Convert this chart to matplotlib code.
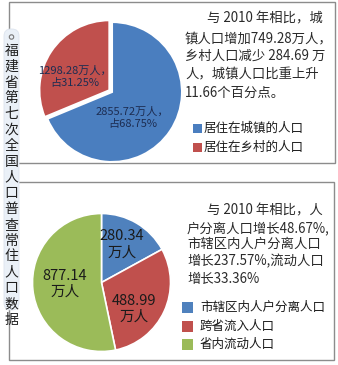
import matplotlib
matplotlib.use("Agg")
import matplotlib.pyplot as plt
from matplotlib.patches import Rectangle, FancyBboxPatch, Circle

plt.rcParams['font.family'] = ['Noto Sans CJK SC', 'DejaVu Sans']

# 城乡人口
urban_rural_names = ['居住在城镇的人口', '居住在乡村的人口']
urban_rural_values = [2855.72, 1298.28]
urban_rural_colors = ['#4a7ebf', '#c0504d']

# 人户分离 / 流动人口
flow_names = ['市辖区内人户分离人口', '跨省流入人口', '省内流动人口']
flow_values = [280.34, 488.99, 877.14]
flow_colors = ['#4f81bd', '#c0504d', '#9bbb59']

top_note = ['与 2010 年相比，城', '镇人口增加749.28万人，', '乡村人口减少 284.69 万',
            '人，城镇人口比重上升', '11.66个百分点。']
bottom_note = ['与 2010 年相比，人', '户分离人口增长48.67%,', '市辖区内人户分离人口',
               '增长237.57%,流动人口', '增长33.36%']
side_title = '福建省第七次全国人口普查常住人口数据'

W, H = 338, 365
fig = plt.figure(figsize=(W / 100, H / 100), dpi=100)
fig.patch.set_facecolor('white')

# background layer in pixel coordinates (y downwards)
bg = fig.add_axes([0, 0, 1, 1])
bg.set_xlim(0, W)
bg.set_ylim(H, 0)
bg.axis('off')

box_kw = dict(fill=False, edgecolor='#8c8c8c', linewidth=1.0)
bg.add_patch(Rectangle((9, 2), 326, 161, **box_kw))
bg.add_patch(Rectangle((9, 182), 325, 178, **box_kw))

# vertical title strip
bg.add_patch(FancyBboxPatch((4, 29), 15, 281, boxstyle='round,pad=0,rounding_size=7',
                            facecolor='#eaf0f7', edgecolor='#dde4ee', linewidth=0.6, zorder=3))
for cy in (37, 303):
    bg.add_patch(Circle((11.5, cy), 2.2, fill=False, edgecolor='#777777', linewidth=0.8, zorder=4))
for i, ch in enumerate(side_title):
    bg.text(11.5, 51 + i * 15.8, ch, fontsize=10, color='#1e1e1e',
            ha='center', va='center', zorder=4)


def pie_axes(cx, cy, r, pad=1.12):
    s = r * pad
    ax = fig.add_axes([(cx - s) / W, (H - cy - s) / H, 2 * s / W, 2 * s / H])
    return ax, pad


# top pie
ax1, p1 = pie_axes(112, 92, 70)
ax1.pie(urban_rural_values, colors=urban_rural_colors, startangle=90, counterclock=False,
        explode=[0, 0.045], radius=1,
        wedgeprops=dict(edgecolor='white', linewidth=1.5))
ax1.set_xlim(-p1, p1)
ax1.set_ylim(-p1, p1)
tot1 = sum(urban_rural_values)
lab_pos1 = [(0.29, -0.37), (-0.53, 0.22)]
for v, (x, y) in zip(urban_rural_values, lab_pos1):
    ax1.text(x, y, f'{v:.2f}万人，\n占{v / tot1 * 100:.2f}%', fontsize=8, color='#1d2d52',
             ha='center', va='center', linespacing=1.2)

# bottom pie
ax2, p2 = pie_axes(101.5, 282.5, 69)
ax2.pie(flow_values, colors=flow_colors, startangle=90, counterclock=False, radius=1,
        wedgeprops=dict(edgecolor='white', linewidth=1.2))
ax2.set_xlim(-p2, p2)
ax2.set_ylim(-p2, p2)
lab_pos2 = [(0.30, 0.55), (0.47, -0.38), (-0.53, -0.02)]
for v, (x, y) in zip(flow_values, lab_pos2):
    ax2.text(x, y, f'{v:.2f}\n万人', fontsize=10.5, color='#1a1a1a',
             ha='center', va='center', linespacing=1.2)

# notes
note_kw = dict(fontsize=9.6, color='#2a2a2a', va='center')
for i, (line, y) in enumerate(zip(top_note, [18, 38, 56, 74, 93])):
    if i == 0:
        bg.text(323, y, line, ha='right', **note_kw)
    else:
        bg.text(185, y, line, ha='left', **note_kw)
for i, (line, y) in enumerate(zip(bottom_note, [210, 228, 244, 261, 279])):
    if i == 0:
        bg.text(323, y, line, ha='right', **note_kw)
    else:
        bg.text(187, y, line, ha='left', **note_kw)

# legends
for name, c, y in zip(urban_rural_names, urban_rural_colors, [128, 147]):
    bg.add_patch(Rectangle((193, y - 4.5), 9, 9, facecolor=c, edgecolor='none'))
    bg.text(204, y, name, fontsize=9, color='#1a1a1a', ha='left', va='center')
for name, c, y in zip(flow_names, flow_colors, [307, 326, 344]):
    bg.add_patch(Rectangle((182, y - 5.5), 11, 11, facecolor=c, edgecolor='none'))
    bg.text(200, y, name, fontsize=9, color='#1a1a1a', ha='left', va='center')

fig.savefig('out.png', dpi=100)
